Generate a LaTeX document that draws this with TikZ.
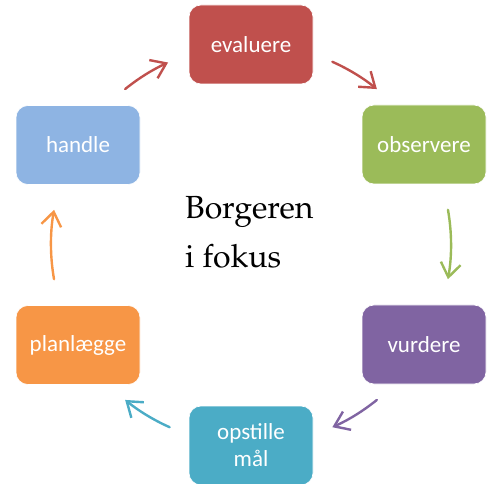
\documentclass[tikz,border=0pt]{standalone}
\usepackage[T1]{fontenc}
\usepackage{fontspec}
\setsansfont{Carlito}
\usetikzlibrary{arrows.meta}
\definecolor{evalred}{HTML}{C0504D}
\definecolor{obsgreen}{HTML}{9BBB59}
\definecolor{vurdpurple}{HTML}{8064A2}
\definecolor{malteal}{HTML}{4BACC6}
\definecolor{planorange}{HTML}{F79646}
\definecolor{handleblue}{HTML}{8EB4E3}
\newcommand{\pagfont}{\fontencoding{T1}\fontfamily{ppl}\selectfont}
\begin{document}
\begin{tikzpicture}[x=1pt, y=1pt, line cap=round, line join=round, font=\sffamily\fontsize{23}{27}\selectfont, >={Straight Barb[length=14pt,width=20pt]}]
	\tikzset{box/.style={rectangle, rounded corners=12pt, minimum width=124pt, minimum height=79pt, inner sep=0pt, text=white, align=center, draw=white, line width=0.6pt},
		cyc/.style={->, line width=2.4pt}}
	\useasboundingbox (0,0) rectangle (488,-484);
	\coordinate (c) at (251,-244.5);
	\node[box, fill=evalred] (eval) at (251,-44.5) {evaluere};
	\node[box, fill=obsgreen] (obs) at (424,-144.5) {observere};
	\node[box, fill=vurdpurple] (vurd) at (424,-344.5) {vurdere};
	\node[box, fill=malteal] (mal) at (251,-445.5) {opstille\\mål};
	\node[box, fill=planorange] (plan) at (78,-345) {planlægge};
	\node[box, fill=handleblue] (handle) at (78,-145) {handle};
	\node[anchor=base west, align=left, font=\pagfont\fontsize{32}{49}\selectfont, inner sep=0pt] (focus) at (185,-268) {Borgeren\\i fokus};
	\draw[cyc, evalred] ([shift={(129:200)}]c) arc[start angle=129, end angle=114.5, radius=200];
	\draw[cyc, evalred] ([shift={(66:200)}]c) arc[start angle=66, end angle=51, radius=200];
	\draw[cyc, obsgreen] ([shift={(10:200)}]c) arc[start angle=10, end angle=-10, radius=200];
	\draw[cyc, vurdpurple] ([shift={(-51:200)}]c) arc[start angle=-51, end angle=-66, radius=200];
	\draw[cyc, malteal] ([shift={(-114:200)}]c) arc[start angle=-114, end angle=-129, radius=200];
	\draw[cyc, planorange] ([shift={(190:200)}]c) arc[start angle=190, end angle=170, radius=200];
\end{tikzpicture}
\end{document}
